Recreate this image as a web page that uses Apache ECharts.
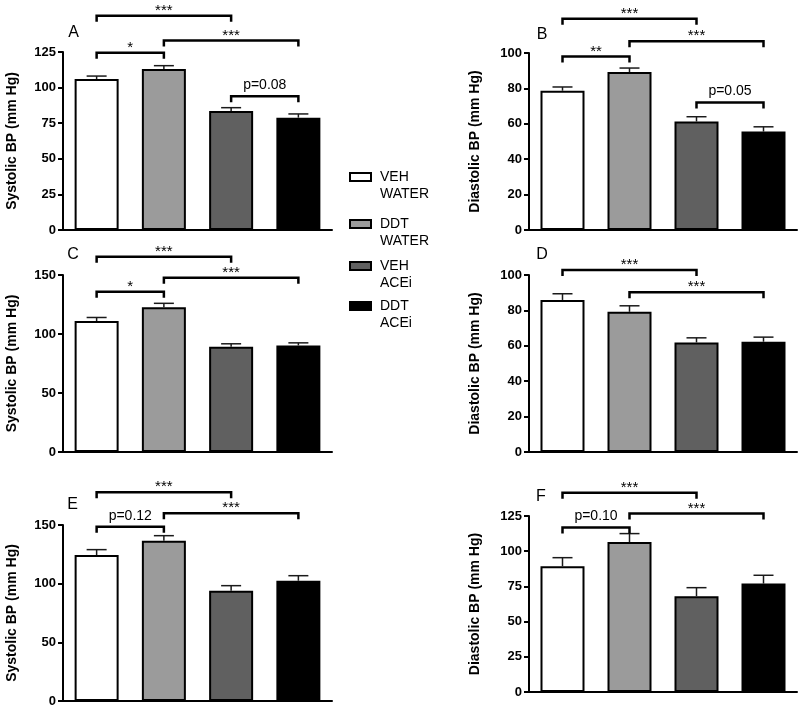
<!DOCTYPE html>
<html>
<head>
<meta charset="utf-8">
<script src="https://cdn.jsdelivr.net/npm/echarts@6/dist/echarts.min.js"></script>
<style>html,body{margin:0;padding:0;background:#fff}#c{width:800px;height:714px}</style>
</head>
<body>
<div id="c"></div>
<script>
// ---- data ----
const groups = ['VEH WATER', 'DDT WATER', 'VEH ACEi', 'DDT ACEi'];
const legendLine1 = ['VEH', 'DDT', 'VEH', 'DDT'];
const legendLine2 = ['WATER', 'WATER', 'ACEi', 'ACEi'];
const panelLetters = ['A', 'B', 'C', 'D', 'E', 'F'];
const yTitles = ['Systolic BP (mm Hg)', 'Diastolic BP (mm Hg)', 'Systolic BP (mm Hg)', 'Diastolic BP (mm Hg)', 'Systolic BP (mm Hg)', 'Diastolic BP (mm Hg)'];
const yMax = [125, 100, 150, 100, 150, 125];
const yInterval = [25, 20, 50, 20, 50, 25];

const meanA = [106, 113, 83.6, 78.9];
const errA = [2.1, 2.4, 2.3, 2.6];
const meanB = [78.7, 89.2, 61.3, 55.6];
const errB = [2.1, 2.3, 2.7, 2.7];
const meanC = [111, 122.6, 89.1, 90.3];
const errC = [3.0, 3.4, 2.6, 2.2];
const meanD = [85.9, 79.2, 61.9, 62.3];
const errD = [3.5, 3.4, 2.6, 2.6];
const meanE = [124.4, 136.6, 94, 102.5];
const errE = [4.6, 4.3, 4.3, 4.3];
const meanF = [89.3, 106.5, 68, 77];
const errF = [6.1, 6.0, 6.1, 5.9];

// brackets: [from group, to group, height (axis units), label]
const bracketsA = [[0, 2, 150.5, '***'], [0, 1, 124.5, '*'], [1, 3, 133, '***'], [2, 3, 94, 'p=0.08']];
const bracketsB = [[0, 2, 119.4, '***'], [0, 1, 98, '**'], [1, 3, 106.6, '***'], [2, 3, 72, 'p=0.05']];
const bracketsC = [[0, 2, 165.5, '***'], [0, 1, 135.8, '*'], [1, 3, 147.7, '***']];
const bracketsD = [[0, 2, 102.8, '***'], [1, 3, 90.2, '***']];
const bracketsE = [[0, 2, 177.9, '***'], [0, 1, 148.6, 'p=0.12'], [1, 3, 160, '***']];
const bracketsF = [[0, 2, 141.6, '***'], [0, 1, 116.8, 'p=0.10'], [1, 3, 126.7, '***']];

// ---- styling / layout ----
const FONT = "'Liberation Sans', Arial, sans-serif";
const barColors = ['#ffffff', '#9b9b9b', '#606060', '#000000'];
const means = [meanA, meanB, meanC, meanD, meanE, meanF];
const errs = [errA, errB, errC, errD, errE, errF];
const brackets = [bracketsA, bracketsB, bracketsC, bracketsD, bracketsE, bracketsF];
const grids = [
  {left: 63, top: 52, width: 269, height: 178},
  {left: 529, top: 53, width: 268, height: 177},
  {left: 63, top: 275, width: 269, height: 177},
  {left: 529, top: 275, width: 268, height: 177},
  {left: 63, top: 525, width: 269, height: 176},
  {left: 529, top: 516, width: 268, height: 176}
];
const nameGaps = [44, 47, 44, 47, 44, 47];
const letterPos = [[73.5, 33], [542, 35], [73, 255], [542, 255], [72.5, 505], [541, 497]];

const chart = echarts.init(document.getElementById('c'), null, {renderer: 'canvas'});

const option = {
  animation: false,
  backgroundColor: '#fff',
  grid: grids.map(g => Object.assign({containLabel: false}, g)),
  xAxis: grids.map((g, i) => ({
    type: 'category', gridIndex: i, data: groups,
    axisLine: {show: true, lineStyle: {color: '#000', width: 2}},
    axisTick: {show: false}, axisLabel: {show: false}, splitLine: {show: false}
  })),
  yAxis: grids.map((g, i) => ({
    type: 'value', gridIndex: i, min: 0, max: yMax[i], interval: yInterval[i],
    name: yTitles[i], nameLocation: 'middle', nameGap: nameGaps[i],
    nameTextStyle: {fontFamily: FONT, fontWeight: 'bold', fontSize: 14, color: '#000'},
    axisLine: {show: true, lineStyle: {color: '#000', width: 2}},
    axisTick: {show: true, length: 5, lineStyle: {color: '#000', width: 2}},
    axisLabel: {fontFamily: FONT, fontWeight: 'bold', fontSize: 13, color: '#000', margin: 7},
    splitLine: {show: false}
  })),
  series: [],
  graphic: []
};

for (let i = 0; i < 6; i++) {
  option.series.push({
    type: 'bar', xAxisIndex: i, yAxisIndex: i, barWidth: 44,
    data: means[i].map((v, k) => ({value: v, itemStyle: {color: barColors[k], borderColor: '#000', borderWidth: 2}})),
    z: 2
  });
  // error bars (upper whisker)
  option.series.push({
    type: 'custom', xAxisIndex: i, yAxisIndex: i, z: 3, clip: false,
    data: means[i].map((v, k) => [k, v, v + errs[i][k]]),
    encode: {x: 0, y: [1, 2]},
    renderItem: function (params, api) {
      const lo = api.coord([api.value(0), api.value(1)]);
      const hi = api.coord([api.value(0), api.value(2)]);
      const hw = 10;
      const st = {stroke: '#1a1a1a', lineWidth: 1.5, fill: null};
      return {type: 'group', children: [
        {type: 'line', shape: {x1: lo[0], y1: lo[1], x2: hi[0], y2: hi[1]}, style: st},
        {type: 'line', shape: {x1: hi[0] - hw, y1: hi[1], x2: hi[0] + hw, y2: hi[1]}, style: st}
      ]};
    }
  });
  // significance brackets
  const br = brackets[i];
  option.series.push({
    type: 'custom', xAxisIndex: i, yAxisIndex: i, z: 4, clip: false,
    data: br.map(b => [b[0], b[1], b[2]]),
    dimensions: ['x1', 'x2', 'y'],
    encode: {x: [0, 1], y: 2},
    renderItem: function (params, api) {
      const b = br[params.dataIndex];
      const p1 = api.coord([b[0], b[2]]);
      const p2 = api.coord([b[1], b[2]]);
      const drop = 6;
      const isStar = b[3].indexOf('*') === 0;
      const st = {stroke: '#000', lineWidth: 2.5, fill: null};
      return {type: 'group', children: [
        {type: 'polyline', shape: {points: [[p1[0], p1[1] + drop], [p1[0], p1[1]], [p2[0], p2[1]], [p2[0], p2[1] + drop]]}, style: st},
        {type: 'text', style: {
          text: b[3], x: (p1[0] + p2[0]) / 2, y: p1[1] - (isStar ? 5 : 11),
          align: 'center', verticalAlign: 'middle',
          font: (isStar ? '15px ' : '14px ') + FONT, fill: '#000'
        }}
      ]};
    }
  });
  option.graphic.push({
    type: 'text', x: letterPos[i][0], y: letterPos[i][1],
    style: {text: panelLetters[i], font: '16px ' + FONT, fill: '#000', align: 'center', verticalAlign: 'middle'}
  });
}

// legend
const legBoxY = [173, 220, 262, 302];
for (let k = 0; k < 4; k++) {
  option.graphic.push({
    type: 'rect', shape: {x: 350, y: legBoxY[k], width: 21, height: 8},
    style: {fill: barColors[k], stroke: '#000', lineWidth: 2}
  });
  option.graphic.push({
    type: 'text', x: 380, y: legBoxY[k] + 4,
    style: {text: legendLine1[k] + '\n' + legendLine2[k], font: '14px ' + FONT, fill: '#000',
      lineHeight: 16.5, align: 'left', verticalAlign: 'top', y: -8}
  });
}

chart.setOption(option);
</script>
</body>
</html>
